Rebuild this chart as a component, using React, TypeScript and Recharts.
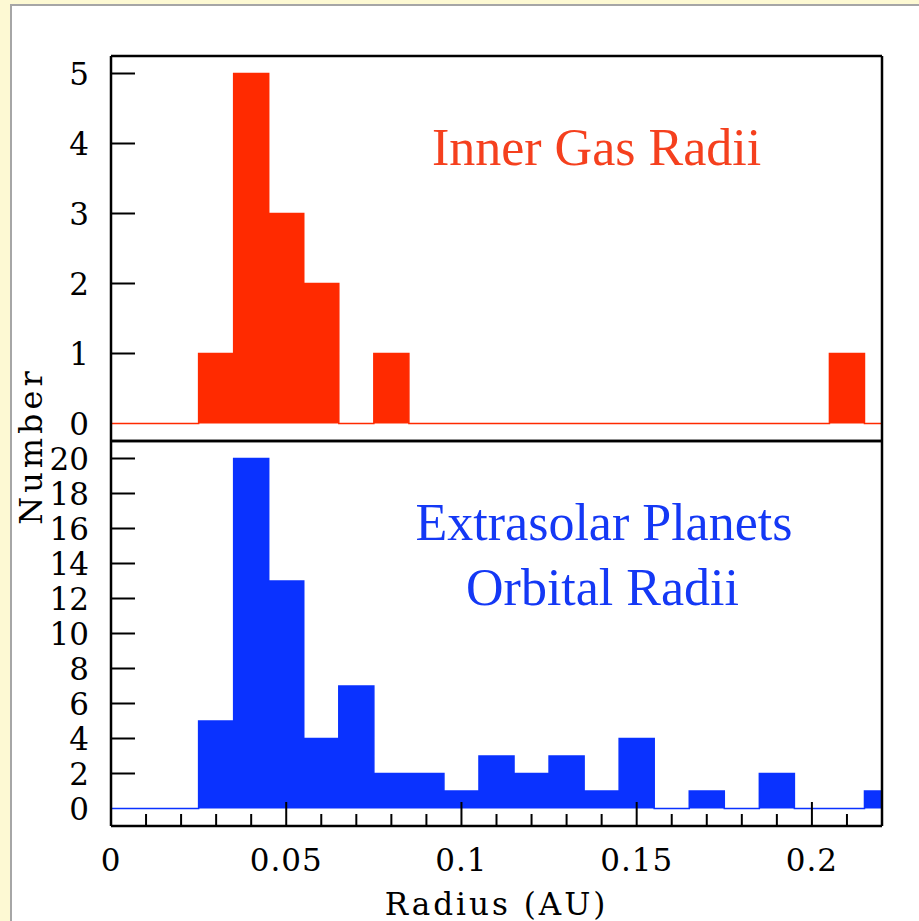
import React from 'react';
import { AreaChart, Area, XAxis, YAxis, ReferenceLine } from 'recharts';

// Histogram bins: left edges (AU), each bin 0.01 AU wide
const binLeftEdges = [
  0.025, 0.035, 0.045, 0.055, 0.065, 0.075, 0.085, 0.095, 0.105, 0.115,
  0.125, 0.135, 0.145, 0.155, 0.165, 0.175, 0.185, 0.195, 0.205, 0.215,
];
const gasCounts = [1, 5, 3, 2, 0, 1, 0, 0, 0, 0, 0, 0, 0, 0, 0, 0, 0, 0, 1, 0];
const planetCounts = [5, 20, 13, 4, 7, 2, 2, 1, 3, 2, 3, 1, 4, 0, 1, 0, 2, 0, 0, 1];

const radiusRange: [number, number] = [0, 0.22];
const gasRange: [number, number] = [-0.25, 5.25];
const planetRange: [number, number] = [-1, 21];
const xTicks = [
  0, 0.01, 0.02, 0.03, 0.04, 0.05, 0.06, 0.07, 0.08, 0.09, 0.1, 0.11,
  0.12, 0.13, 0.14, 0.15, 0.16, 0.17, 0.18, 0.19, 0.2, 0.21, 0.22,
];
const xLabelTicks = [0, 0.05, 0.1, 0.15, 0.2];
const xLabelText = ['0', '0.05', '0.1', '0.15', '0.2'];
const gasTicks = [0, 1, 2, 3, 4, 5];
const planetTicks = [0, 2, 4, 6, 8, 10, 12, 14, 16, 18, 20];

const RED = '#FF2A00';
const BLUE = '#0A32FF';
const AXIS_FONT = '"DejaVu Serif", serif';
const TITLE_FONT = '"Liberation Serif", "Times New Roman", serif';

function buildSteps(counts: number[]) {
  const rows = [{ r: radiusRange[0], n: 0 }];
  binLeftEdges.forEach((edge, i) => rows.push({ r: edge, n: counts[i] }));
  rows.push({ r: radiusRange[1], n: counts[counts.length - 1] });
  return rows;
}

const gasData = buildSteps(gasCounts);
const planetData = buildSteps(planetCounts);

const near = (a: number, b: number) => Math.abs(a - b) < 1e-9;

// Inward ticks on the radius axis, long at labelled values
const RadiusTick = (props: any) => {
  const { x, y, payload } = props;
  const idx = xLabelTicks.findIndex((t) => near(t, payload.value));
  const major = idx >= 0;
  return (
    <g>
      <line x1={x} x2={x} y1={y} y2={y - (major ? 24 : 12)} stroke="#000" strokeWidth={2} />
      {major && (
        <text
          x={x}
          y={y + 45}
          textAnchor="middle"
          fontFamily={AXIS_FONT}
          fontSize={31}
          letterSpacing={1}
          fill="#000"
        >
          {xLabelText[idx]}
        </text>
      )}
    </g>
  );
};

// Inward ticks on the count axes with labels to the left;
// the zero tick sits under the histogram baseline, so only its label shows
const CountTick = (props: any) => {
  const { x, y, payload } = props;
  return (
    <g>
      {payload.value !== 0 && (
        <line x1={x} x2={x + 24} y1={y} y2={y} stroke="#000" strokeWidth={2} />
      )}
      <text
        x={x - 22}
        y={y + 11.5}
        textAnchor="end"
        fontFamily={AXIS_FONT}
        fontSize={31}
        fill="#000"
      >
        {payload.value}
      </text>
    </g>
  );
};

const frameLine = { stroke: '#000', strokeWidth: 2.5 };

export default function App() {
  return (
    <div
      style={{
        position: 'absolute',
        left: 0,
        top: 0,
        width: 919,
        height: 921,
        background: '#FDF9D3',
        overflow: 'hidden',
      }}
    >
      <div
        style={{
          position: 'absolute',
          left: 10,
          top: 4,
          width: 909,
          height: 917,
          background: '#FFFFFF',
          borderLeft: '2px solid #A6A6A6',
          borderTop: '2px solid #A6A6A6',
          boxSizing: 'border-box',
        }}
      />

      {/* Upper panel: inner gas radii */}
      <div style={{ position: 'absolute', left: 0, top: 0 }}>
        <AreaChart
          width={919}
          height={470}
          data={gasData}
          margin={{ top: 56, right: 37, bottom: 0, left: 0 }}
        >
          <XAxis
            dataKey="r"
            type="number"
            domain={radiusRange}
            allowDataOverflow
            ticks={[]}
            tickLine={false}
            axisLine={frameLine}
            height={29}
          />
          <YAxis
            type="number"
            domain={gasRange}
            ticks={gasTicks}
            interval={0}
            tick={<CountTick />}
            tickSize={0}
            tickMargin={0}
            tickLine={false}
            axisLine={frameLine}
            width={111}
          />
          <ReferenceLine y={gasRange[1]} stroke="#000" strokeWidth={2.5} ifOverflow="visible" />
          <ReferenceLine x={radiusRange[1]} stroke="#000" strokeWidth={2.5} ifOverflow="visible" />
          <Area
            type="stepAfter"
            dataKey="n"
            baseValue={0}
            stroke={RED}
            strokeWidth={1.5}
            fill={RED}
            fillOpacity={1}
            dot={false}
            activeDot={false}
            isAnimationActive={false}
          />
        </AreaChart>
      </div>

      {/* Lower panel: extrasolar planet orbital radii */}
      <div style={{ position: 'absolute', left: 0, top: 420 }}>
        <AreaChart
          width={919}
          height={501}
          data={planetData}
          margin={{ top: 21, right: 37, bottom: 0, left: 0 }}
        >
          <XAxis
            dataKey="r"
            type="number"
            domain={radiusRange}
            allowDataOverflow
            ticks={xTicks}
            interval={0}
            tick={<RadiusTick />}
            tickSize={0}
            tickMargin={0}
            tickLine={false}
            axisLine={frameLine}
            height={95}
          />
          <YAxis
            type="number"
            domain={planetRange}
            ticks={planetTicks}
            interval={0}
            tick={<CountTick />}
            tickSize={0}
            tickMargin={0}
            tickLine={false}
            axisLine={frameLine}
            width={111}
          />
          <ReferenceLine y={planetRange[1]} stroke="#000" strokeWidth={2.5} ifOverflow="visible" />
          <ReferenceLine x={radiusRange[1]} stroke="#000" strokeWidth={2.5} ifOverflow="visible" />
          <Area
            type="stepAfter"
            dataKey="n"
            baseValue={0}
            stroke={BLUE}
            strokeWidth={1.5}
            fill={BLUE}
            fillOpacity={1}
            dot={false}
            activeDot={false}
            isAnimationActive={false}
          />
        </AreaChart>
      </div>

      {/* Titles and axis captions */}
      <svg
        width={919}
        height={921}
        style={{ position: 'absolute', left: 0, top: 0, pointerEvents: 'none' }}
      >
        <text x={596.5} y={165} textAnchor="middle" fontFamily={TITLE_FONT} fontSize={52} fill="#F5401E">
          Inner Gas Radii
        </text>
        <text x={604} y={540} textAnchor="middle" fontFamily={TITLE_FONT} fontSize={52} fill="#1438F5">
          Extrasolar Planets
        </text>
        <text x={602.5} y={605} textAnchor="middle" fontFamily={TITLE_FONT} fontSize={52} fill="#1438F5">
          Orbital Radii
        </text>
        <text
          x={496.5}
          y={915}
          textAnchor="middle"
          fontFamily={AXIS_FONT}
          fontSize={31}
          letterSpacing={3}
          fill="#000"
        >
          Radius (AU)
        </text>
        <text
          transform="translate(42 446) rotate(-90)"
          textAnchor="middle"
          fontFamily={AXIS_FONT}
          fontSize={32}
          letterSpacing={4}
          fill="#000"
        >
          Number
        </text>
      </svg>
    </div>
  );
}
